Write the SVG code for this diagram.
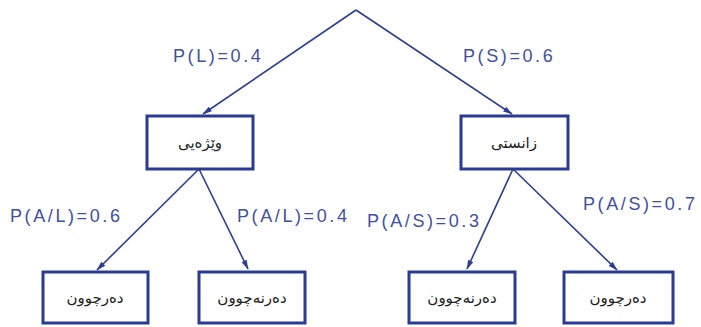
<svg xmlns="http://www.w3.org/2000/svg" width="701" height="327" viewBox="0 0 701 327">
<style>
.node rect{fill:#fff;stroke:#2b3a92;stroke-width:3}
.node text{font-family:"DejaVu Sans",sans-serif;font-size:15px;fill:#222;text-anchor:middle;dominant-baseline:central}
.edge{stroke:#2d3d96;stroke-width:1.6;fill:none;marker-end:url(#ah)}
.lbl{font-family:"Liberation Sans",Arial,sans-serif;font-size:18px;fill:#3f4fa3;letter-spacing:2.6px}
</style>
<defs>
<marker id="ah" viewBox="0 0 12 10" refX="11" refY="5" markerWidth="11" markerHeight="8" markerUnits="userSpaceOnUse" orient="auto">
<path d="M0,1.5 L12,5 L0,8.5 z" fill="#2d3d96"/>
</marker>
</defs>
<rect width="701" height="327" fill="#fff"/>
<g id="connectors">
<line class="edge" x1="356" y1="10" x2="203" y2="114"/>
<line class="edge" x1="356" y1="10" x2="512" y2="114"/>
<line class="edge" x1="199" y1="169" x2="97" y2="270"/>
<line class="edge" x1="199" y1="169" x2="248" y2="269"/>
<line class="edge" x1="513" y1="169" x2="467" y2="269"/>
<line class="edge" x1="513" y1="169" x2="617" y2="270"/>
</g>
<g id="labels">
<text class="lbl" x="173" y="62">P(L)=0.4</text>
<text class="lbl" x="463" y="62">P(S)=0.6</text>
<text class="lbl" x="10" y="222">P(A/L)=0.6</text>
<text class="lbl" x="237" y="222">P(A/L)=0.4</text>
<text class="lbl" x="367" y="227">P(A/S)=0.3</text>
<text class="lbl" x="583" y="210">P(A/S)=0.7</text>
</g>
<g id="n_literary" class="node"><rect x="147" y="116" width="106" height="53"/><text x="200" y="143">وێژەیی</text></g>
<g id="n_scientific" class="node"><rect x="461" y="116" width="107" height="53"/><text x="514" y="143">زانستی</text></g>
<g id="n_pass1" class="node"><rect x="43" y="272" width="105" height="51"/><text x="95" y="298">دەرچوون</text></g>
<g id="n_fail1" class="node"><rect x="199" y="272" width="106" height="51"/><text x="252" y="298">دەرنەچوون</text></g>
<g id="n_fail2" class="node"><rect x="409" y="272" width="106" height="51"/><text x="462" y="298">دەرنەچوون</text></g>
<g id="n_pass2" class="node"><rect x="564" y="272" width="109" height="51"/><text x="618" y="298">دەرچوون</text></g>
</svg>
